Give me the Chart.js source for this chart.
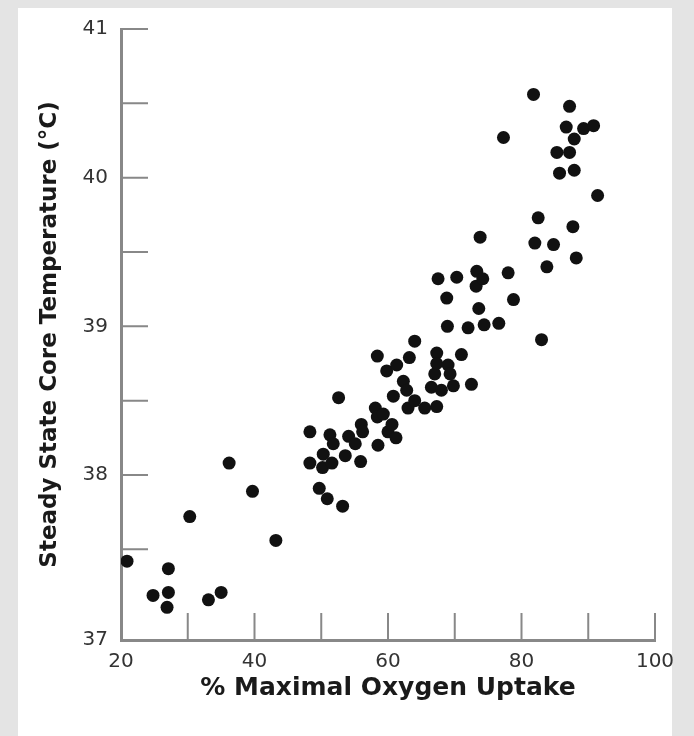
<!DOCTYPE html>
<html>
<head>
<meta charset="utf-8">
<script src="https://cdn.jsdelivr.net/npm/chart.js@4.4.1/dist/chart.umd.min.js"></script>
<style>
  html, body { margin: 0; padding: 0; }
  body { width: 694px; height: 736px; background: #e4e4e4; position: relative; overflow: hidden; }
  #panel { position: absolute; left: 18px; top: 8px; width: 654px; height: 728px; background: #fff; }
  #chart { position: absolute; left: 0; top: 0; }
</style>
</head>
<body>
<div id="panel"></div>
<canvas id="chart" width="694" height="736"></canvas>
<script>
// % maximal oxygen uptake (x) and steady state core temperature (y)
var oxygenUptake = [
  20.9, 24.8, 26.9, 27.1, 27.1, 30.3, 33.1, 35.0, 36.2, 39.7, 43.2,
  48.3, 48.3, 49.7, 50.2, 50.3, 50.9, 51.3, 51.6, 51.8, 52.6, 53.2, 53.6, 54.1, 55.1, 55.9, 56.0, 56.2,
  58.1, 58.4, 58.4, 58.5, 59.3, 59.8, 60.0, 60.6, 60.8, 61.2, 61.3, 62.3, 62.8, 63.0, 63.2, 64.0, 64.0,
  65.5, 66.5, 67.0, 67.3, 67.3, 67.3, 68.0, 69.0, 69.3, 69.8, 71.0, 72.5,
  67.5, 68.8, 68.9, 70.3, 72.0, 73.2, 73.3, 73.6, 73.8, 74.2, 74.4, 76.6, 77.3, 78.0, 78.8,
  81.8, 82.0, 82.5, 83.0, 83.8, 84.8, 85.3, 85.7, 86.7, 87.2, 87.2, 87.7, 87.9, 87.9, 88.2, 89.3, 90.8, 91.4
];
var coreTemp = [
  37.42, 37.19, 37.11, 37.37, 37.21, 37.72, 37.16, 37.21, 38.08, 37.89, 37.56,
  38.29, 38.08, 37.91, 38.05, 38.14, 37.84, 38.27, 38.08, 38.21, 38.52, 37.79, 38.13, 38.26, 38.21, 38.09, 38.34, 38.29,
  38.45, 38.80, 38.39, 38.20, 38.41, 38.70, 38.29, 38.34, 38.53, 38.25, 38.74, 38.63, 38.57, 38.45, 38.79, 38.90, 38.50,
  38.45, 38.59, 38.68, 38.82, 38.75, 38.46, 38.57, 38.74, 38.68, 38.60, 38.81, 38.61,
  39.32, 39.19, 39.00, 39.33, 38.99, 39.27, 39.37, 39.12, 39.60, 39.32, 39.01, 39.02, 40.27, 39.36, 39.18,
  40.56, 39.56, 39.73, 38.91, 39.40, 39.55, 40.17, 40.03, 40.34, 40.48, 40.17, 39.67, 40.26, 40.05, 39.46, 40.33, 40.35, 39.88
];
var xTickLabels = ['20', '40', '60', '80', '100'];
var yTickLabels = ['37', '38', '39', '40', '41'];

var points = oxygenUptake.map(function(x, i) { return { x: x, y: coreTemp[i] }; });

var axisGray = '#888';

// tick marks drawn on the inside of the axes, like the original figure
var innerTicks = {
  id: 'innerTicks',
  beforeDatasetsDraw: function(chart) {
    var ctx = chart.ctx, area = chart.chartArea;
    var xs = chart.scales.x, ys = chart.scales.y;
    ctx.save();
    ctx.strokeStyle = axisGray;
    ctx.lineWidth = 2;
    ctx.beginPath();
    xs.ticks.forEach(function(t) {
      var px = xs.getPixelForValue(t.value);
      ctx.moveTo(px, area.bottom);
      ctx.lineTo(px, area.bottom - 27);
    });
    ys.ticks.forEach(function(t) {
      if (t.value <= ys.min) return;
      var py = ys.getPixelForValue(t.value);
      ctx.moveTo(area.left, py);
      ctx.lineTo(area.left + 27, py);
    });
    ctx.stroke();
    ctx.restore();
  }
};

new Chart(document.getElementById('chart').getContext('2d'), {
  type: 'scatter',
  data: {
    datasets: [{
      data: points,
      backgroundColor: '#111',
      borderWidth: 0,
      pointRadius: 6.5,
      pointHoverRadius: 6.5
    }]
  },
  options: {
    responsive: false,
    animation: false,
    layout: { padding: { left: 0, top: 29, right: 39, bottom: 0 } },
    plugins: { legend: { display: false }, tooltip: { enabled: false } },
    scales: {
      x: {
        type: 'linear',
        min: 20,
        max: 100,
        afterFit: function(scale) { scale.height = 96; },
        grid: { display: false, drawTicks: false },
        border: { display: true, color: axisGray, width: 3 },
        ticks: {
          stepSize: 10,
          autoSkip: false,
          maxRotation: 0,
          padding: 10,
          color: '#333',
          font: { family: 'DejaVu Sans', size: 20 },
          callback: function(value) {
            return xTickLabels.indexOf(String(value)) >= 0 ? String(value) : '';
          }
        },
        title: {
          display: true,
          text: '% Maximal Oxygen Uptake',
          color: '#1a1a1a',
          font: { family: 'DejaVu Sans', size: 25, weight: 'bold' },
          padding: { top: 0, bottom: 33 }
        }
      },
      y: {
        type: 'linear',
        min: 36.89,
        max: 41,
        afterFit: function(scale) { scale.width = 121; },
        afterBuildTicks: function(scale) {
          var vals = [scale.min];
          for (var v = 37.5; v <= 41.001; v += 0.5) vals.push(Math.round(v * 10) / 10);
          scale.ticks = vals.map(function(v) { return { value: v }; });
        },
        grid: { display: false, drawTicks: false },
        border: { display: true, color: axisGray, width: 3 },
        ticks: {
          padding: 13,
          color: '#333',
          font: { family: 'DejaVu Sans', size: 20 },
          callback: function(value, i) {
            if (i === 0) return yTickLabels[0];
            return yTickLabels.indexOf(String(value)) >= 0 ? String(value) : '';
          }
        },
        title: {
          display: true,
          text: 'Steady State Core Temperature (°C)',
          color: '#1a1a1a',
          font: { family: 'DejaVu Sans', size: 23, weight: 'bold' },
          padding: { top: 36, bottom: 0 }
        }
      }
    }
  },
  plugins: [innerTicks]
});
</script>
</body>
</html>
